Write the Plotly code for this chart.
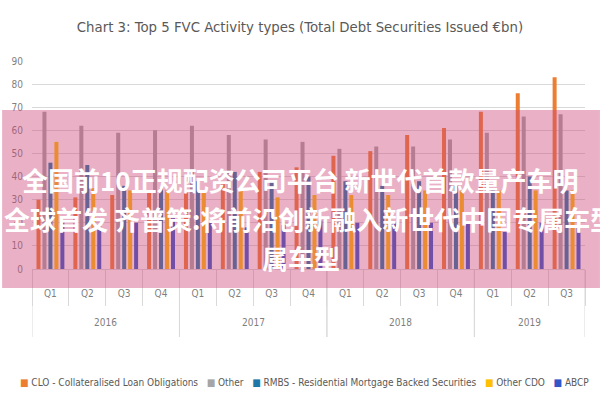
import plotly.graph_objects as go

years = ["2016"] * 4 + ["2017"] * 4 + ["2018"] * 4 + ["2019"] * 3
quarters = ["Q1", "Q2", "Q3", "Q4"] * 3 + ["Q1", "Q2", "Q3"]

series_names = [
    "CLO - Collateralised Loan Obligations",
    "Other",
    "RMBS - Residential Mortgage Backed Securities",
    "Other CDO",
    "ABCP",
]
clo = [30, 31, 32, 33, 33, 38, 42, 44, 49, 51, 58, 61, 68, 76, 83]
other = [68, 62, 59, 60, 62, 58, 56, 55, 52, 53, 53, 56, 59, 66, 67]
rmbs = [46, 45, 36, 35, 38, 42, 38, 40, 38, 36, 38, 36, 34, 40, 34]
other_cdo = [55, 35, 34, 34, 34, 34, 31, 32, 32, 32, 34, 34, 34, 34, 34]
abcp = [21, 19, 20, 22, 20, 18, 19, 21, 20, 20, 20, 20, 16, 20, 18]
series_values = [clo, other, rmbs, other_cdo, abcp]
colors = ["#ED7D31", "#A5A5A5", "#1F77A8", "#FFC000", "#3056C8"]

title_text = "Chart 3: Top 5 FVC Activity types (Total Debt Securities Issued €bn)"
banner_lines = [
    "全国前10正规配资公司平台 新世代首款量产车明",
    "日全球首发 齐普策:将前沿创新融入新世代中国专属车型",
    "属车型",
]

FONT = "Liberation Sans Narrow, DejaVu Sans Condensed, Arial Narrow, sans-serif"
CJK = "Noto Sans CJK SC, sans-serif"
GRID = "#D9D9D9"

n = len(quarters)
idx = list(range(n))

fig = go.Figure()
for name, vals, col in zip(series_names, series_values, colors):
    fig.add_trace(go.Bar(x=idx, y=vals, name=name,
                         marker=dict(color=col, line=dict(width=0))))

legend_html = "   ".join(
    f"<span style='color:{c}'>■</span> {nm}" for nm, c in zip(series_names, colors)
)

fig.update_layout(
    width=600, height=400,
    margin=dict(l=30, r=15, t=61, b=131),
    paper_bgcolor="white", plot_bgcolor="white",
    barmode="group", bargap=0.19, bargroupgap=0.33,
    showlegend=False,
    font=dict(family=FONT, color="#7F7F7F", size=10),
    title=dict(text=title_text, x=0.5, xanchor="center", y=0.932, yanchor="middle",
               font=dict(family=FONT, size=14.8, color="#595959")),
    yaxis=dict(range=[0, 90], dtick=10, showgrid=True, gridcolor=GRID,
               gridwidth=1, zeroline=False, ticks="", showline=False,
               tickfont=dict(size=10, color="#7F7F7F"), ticklabelstandoff=8),
    xaxis=dict(range=[-0.5, n - 0.5], tickmode="array", tickvals=idx, ticktext=quarters,
               showgrid=False, zeroline=False, showline=True, linecolor=GRID,
               ticks="", ticklabelstandoff=15,
               tickfont=dict(size=10, color="#7F7F7F"),
               minor=dict(tickmode="array", tickvals=[i - 0.5 for i in range(n + 1)],
                          ticks="outside", ticklen=36, tickcolor=GRID, showgrid=False)),
)

# year group labels and dividers
groups = []
for i, y in enumerate(years):
    if not groups or groups[-1][0] != y:
        groups.append([y, i, i])
    else:
        groups[-1][2] = i
for y, a, b in groups:
    fig.add_annotation(text=y, xref="x", yref="paper", x=(a + b) / 2, y=-53 / 208,
                       xanchor="center", yanchor="middle", showarrow=False,
                       font=dict(family=FONT, size=10, color="#7F7F7F"))
    for edge in (a - 0.5, b + 0.5):
        fig.add_shape(type="line", xref="x", yref="paper", x0=edge, x1=edge,
                      y0=0, y1=-68 / 208, line=dict(color=GRID, width=1), layer="below")

# semi-transparent banner overlay
fig.add_shape(type="rect", xref="paper", yref="paper",
              x0=-30 / 555, x1=570 / 555, y0=-19 / 208, y1=159 / 208,
              fillcolor="rgba(205,70,120,0.42)", line=dict(width=0), layer="above")

for txt, xp, yp in zip(banner_lines, [0.486, 0.480, 0.486], [0.428, 0.245, 0.053]):
    fig.add_annotation(text=f"<b>{txt}</b>", xref="paper", yref="paper", x=xp, y=yp,
                       xanchor="center", yanchor="middle", showarrow=False,
                       font=dict(family=CJK, size=26, color="white"))

fig.add_annotation(text=legend_html, xref="paper", yref="paper",
                   x=273 / 555, y=-113 / 208, xanchor="center", yanchor="middle",
                   showarrow=False, font=dict(family=FONT, size=10, color="#595959"))

fig.write_html("out.html", config={"displayModeBar": False},
               post_script="document.body.style.margin='0';")
